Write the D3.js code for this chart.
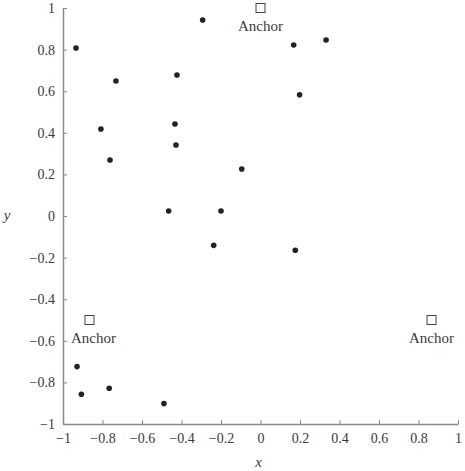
<!DOCTYPE html>
<html>
<head>
<meta charset="utf-8">
<script src="https://cdn.jsdelivr.net/npm/d3@7"></script>
<style>
  body { margin: 0; background: #fff; }
</style>
</head>
<body>
<div id="chart"></div>
<script>
// sample points
const pointX = [-0.934, -0.293, 0.168, 0.332, -0.732, -0.423, 0.198, -0.808, -0.433, -0.428,
                -0.762, -0.095, -0.465, -0.2, -0.237, 0.176, -0.929, -0.907, -0.766, -0.489];
const pointY = [0.808, 0.942, 0.822, 0.846, 0.649, 0.678, 0.583, 0.418, 0.442, 0.341,
                0.269, 0.226, 0.024, 0.024, -0.141, -0.165, -0.724, -0.857, -0.828, -0.902];

// anchors
const anchorX = [0, -0.866, 0.866];
const anchorY = [1, -0.5, -0.5];
const anchorLabels = ["Anchor", "Anchor", "Anchor"];

const tickValues = [-1, -0.8, -0.6, -0.4, -0.2, 0, 0.2, 0.4, 0.6, 0.8, 1];

const serif = "'Liberation Serif', 'DejaVu Serif', 'Times New Roman', serif";

const margin = { top: 8, right: 7, bottom: 47, left: 63 };
const width = 465 - margin.left - margin.right;
const height = 471 - margin.top - margin.bottom;

const svg = d3.select("#chart")
    .append("svg")
    .attr("width", 465)
    .attr("height", 471)
    .append("g")
    .attr("transform", `translate(${margin.left},${margin.top})`);

const x = d3.scaleLinear().domain([-1, 1]).range([0, width]);
const y = d3.scaleLinear().domain([-1, 1]).range([height, 0]);

const fmt = d3.format("~g");

// axes, ticks pointing inwards
const xAxis = svg.append("g")
    .attr("transform", `translate(0,${height})`)
    .call(d3.axisBottom(x).tickValues(tickValues).tickFormat(fmt).tickSizeInner(-4).tickSizeOuter(0).tickPadding(9));

const yAxis = svg.append("g")
    .call(d3.axisLeft(y).tickValues(tickValues).tickFormat(fmt).tickSizeInner(-4).tickSizeOuter(0).tickPadding(8));

[xAxis, yAxis].forEach(a => {
    a.attr("font-family", serif);
    a.select(".domain").attr("stroke", "#8a8a8a").attr("stroke-width", 1.5);
    a.selectAll(".tick line").attr("stroke", "#8a8a8a");
    a.selectAll(".tick text")
        .attr("fill", "#3a3a3a")
        .style("font-family", serif)
        .style("font-size", "14px");
});

// axis titles
svg.append("text")
    .attr("x", x(0) - 2)
    .attr("y", height + 43)
    .attr("text-anchor", "middle")
    .style("font-family", serif)
    .style("font-size", "15px")
    .style("font-style", "italic")
    .attr("fill", "#3a3a3a")
    .text("x");

svg.append("text")
    .attr("x", -56)
    .attr("y", y(0) + 4)
    .attr("text-anchor", "middle")
    .style("font-family", serif)
    .style("font-size", "15px")
    .style("font-style", "italic")
    .attr("fill", "#3a3a3a")
    .text("y");

// points
const points = pointX.map((v, i) => ({ x: v, y: pointY[i] }));
svg.selectAll(".pt")
    .data(points)
    .enter()
    .append("circle")
    .attr("class", "pt")
    .attr("cx", d => x(d.x))
    .attr("cy", d => y(d.y))
    .attr("r", 2.8)
    .attr("fill", "#222");

// anchors
const anchors = anchorX.map((v, i) => ({ x: v, y: anchorY[i], label: anchorLabels[i] }));
svg.selectAll(".anchor")
    .data(anchors)
    .enter()
    .append("rect")
    .attr("class", "anchor")
    .attr("x", d => x(d.x) - 4.5)
    .attr("y", d => y(d.y) - 4.5)
    .attr("width", 9)
    .attr("height", 9)
    .attr("fill", "none")
    .attr("stroke", "#444")
    .attr("stroke-width", 1);

// labels under the anchors, kept clear of the y axis
svg.selectAll(".anchor-label")
    .data(anchors)
    .enter()
    .append("text")
    .attr("class", "anchor-label")
    .attr("y", d => y(d.y) + 23)
    .attr("text-anchor", "middle")
    .style("font-family", serif)
    .style("font-size", "15px")
    .attr("fill", "#3a3a3a")
    .text(d => d.label)
    .attr("x", function(d) {
        const half = this.getComputedTextLength() / 2;
        return Math.max(x(d.x), half + 8);
    });
</script>
</body>
</html>
